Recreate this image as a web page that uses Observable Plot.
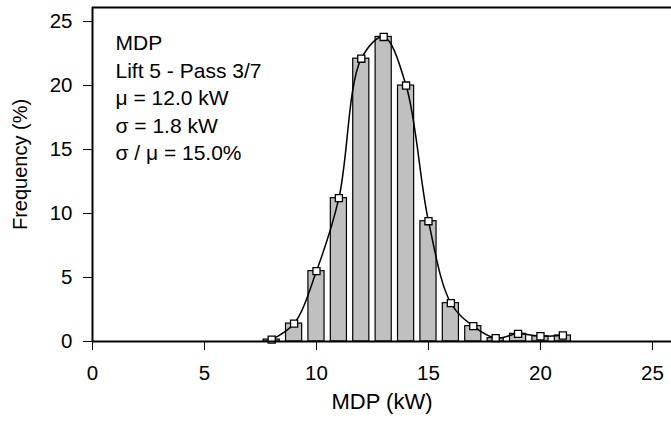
<!DOCTYPE html>
<html>
<head>
<meta charset="utf-8">
<script src="https://cdn.jsdelivr.net/npm/d3@7"></script>
<script src="https://cdn.jsdelivr.net/npm/@observablehq/plot@0.6"></script>
<style>
  html, body { margin: 0; padding: 0; background: white; }
</style>
</head>
<body>
<div id="chart"></div>
<script>
// Data
const binCenters = [8, 9, 10, 11, 12, 13, 14, 15, 16, 17, 18, 19, 20, 21];
const frequencies = [0.15, 1.4, 5.5, 11.2, 22.1, 23.8, 20.0, 9.4, 3.0, 1.2, 0.26, 0.6, 0.41, 0.47];
const xTicks = [0, 5, 10, 15, 20, 25];
const yTicks = [0, 5, 10, 15, 20, 25];
const xDomain = [0, 25.85];
const yDomain = [0, 26.1];
const annotationLines = ["MDP", "Lift 5 - Pass 3/7", "\u03bc = 12.0 kW", "\u03c3 = 1.8 kW", "\u03c3 / \u03bc = 15.0%"];
const xLabel = "MDP (kW)";
const yLabel = "Frequency (%)";

const data = binCenters.map((x, i) => ({x, y: frequencies[i]}));
const halfBar = 0.36;

const chart = Plot.plot({
  width: 671,
  height: 422,
  marginLeft: 92,
  marginTop: 7,
  marginBottom: 81,
  marginRight: 0,
  style: {
    fontFamily: "'Liberation Sans', Arial, Helvetica, sans-serif",
    fontSize: "20.5px",
    color: "black",
    background: "white"
  },
  x: {domain: xDomain, ticks: xTicks, tickSize: 9, tickPadding: 15, tickFormat: d => String(d), label: null},
  y: {domain: yDomain, ticks: yTicks, tickSize: 9, tickPadding: 11, tickFormat: d => String(d), label: null},
  marks: [
    Plot.rectY(data, {
      x1: d => d.x - halfBar,
      x2: d => d.x + halfBar,
      y1: 0,
      y2: "y",
      fill: "#c0c0c0",
      stroke: "black",
      strokeWidth: 1.2
    }),
    Plot.line(data, {x: "x", y: "y", curve: "catmull-rom", stroke: "black", strokeWidth: 1.5}),
    Plot.dot(data, {x: "x", y: "y", symbol: "square", r: 4, fill: "white", stroke: "black", strokeWidth: 1.3}),
    Plot.ruleY([yDomain[0]], {stroke: "black", strokeWidth: 2}),
    Plot.ruleY([yDomain[1]], {stroke: "black", strokeWidth: 2}),
    Plot.ruleX([xDomain[0]], {stroke: "black", strokeWidth: 2}),
    Plot.text([annotationLines.join("\n")], {
      text: d => d,
      frameAnchor: "top-left",
      textAnchor: "start",
      lineAnchor: "top",
      lineHeight: 1.31,
      dx: 23,
      dy: 23,
      fontSize: 21,
      fill: "black"
    }),
    Plot.text([xLabel], {
      text: d => d,
      frameAnchor: "bottom",
      dy: 67,
      fontSize: 22,
      fill: "black"
    }),
    Plot.text([yLabel], {
      text: d => d,
      frameAnchor: "left",
      textAnchor: "middle",
      rotate: -90,
      dx: -72,
      dy: -10,
      fontSize: 20,
      fill: "black"
    })
  ]
});

document.getElementById("chart").appendChild(chart);
</script>
</body>
</html>
